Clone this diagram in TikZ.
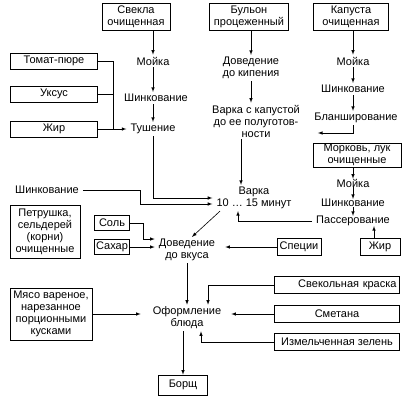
\documentclass[tikz,border=0pt]{standalone}
\usepackage{fontspec}
\setmainfont{Liberation Sans}

\begin{document}
\begin{tikzpicture}[x=1pt,y=-1pt,font=\fontsize{11}{12}\selectfont,
		box/.style={draw,line width=0.6pt,align=center,inner sep=1pt},
		txt/.style={align=center,inner xsep=4pt,inner ysep=2pt},
		arr/.style={-latex,line width=0.6pt},
		ln/.style={line width=0.6pt}]
	\useasboundingbox (0,0) rectangle (412,407);
	
	\node[box,minimum width=68pt,minimum height=27pt] (svekla) at (136,17) {Свекла\\очищенная};
	\node[box,minimum width=79pt,minimum height=27pt] (bulon) at (249,17) {Бульон\\процеженный};
	\node[box,minimum width=75pt,minimum height=27pt] (kapusta) at (351,17) {Капуста\\очищенная};
	
	\foreach \n/\t/\y in {tomat/Томат-пюре/61,uksus/Уксус/94,zhir/Жир/129}
	\node[box,minimum width=87pt,minimum height=16pt] (\n) at (54,\y) {\t};
	
	\node[txt] (moykaA) at (153,61) {Мойка};
	\node[txt] (shinkA) at (156,98) {Шинкование};
	\node[txt] (tush) at (153,129) {Тушение};
	\coordinate (jn) at (113,129);
	
	\node[txt] (dovKip) at (251,68) {Доведение\\до кипения};
	\node[txt] (varkaKap) at (256,121) {Варка с капустой\\до ее полуготов-\\ности};
	\node[txt] (varka) at (254,198) {Варка\\10 … 15 минут};
	
	\node[txt] (moykaC) at (353,61) {Мойка};
	\node[txt] (shinkC) at (353,89) {Шинкование};
	\node[txt] (blansh) at (356,118) {Бланширование};
	
	\node[box,minimum width=88pt,minimum height=24pt] (morkov) at (357,155) {Морковь, лук\\очищенные};
	\node[txt,inner ysep=0pt] (moykaD) at (353,183) {Мойка};
	\node[txt,inner ysep=0pt] (shinkD) at (353,203) {Шинкование};
	\node[txt,inner ysep=0pt] (passer) at (353,221) {Пассерование};
	\node[box,minimum width=40pt,minimum height=17pt] (zhirP) at (380,247) {Жир};
	\node[box,minimum width=44pt,minimum height=17pt] (speci) at (299,247) {Специи};
	
	\node[txt] (shinkP) at (47,190) {Шинкование};
	\node[box,minimum width=70pt,minimum height=53pt] (petr) at (45,232) {Петрушка,\\сельдерей\\(корни)\\очищенные};
	\node[box,minimum width=35pt,minimum height=15pt] (sol) at (112,223) {Соль};
	\node[box,minimum width=35pt,minimum height=15pt] (sakhar) at (112,247) {Сахар};
	\node[txt] (dovVkus) at (187,250) {Доведение\\до вкуса};
	
	\node[txt] (oform) at (187,318) {Оформление\\блюда};
	\node[box,minimum width=82pt,minimum height=52pt] (myaso) at (51,314) {Мясо вареное,\\нарезанное\\порционными\\кусками};
	\node[box,minimum width=125pt,minimum height=17pt,text width=119pt,align=right] (kraska) at (337,285) {Свекольная краска};
	\node[box,minimum width=125pt,minimum height=17pt] (smetana) at (337,314) {Сметана};
	\node[box,minimum width=125pt,minimum height=17pt] (zelen) at (337,342) {Измельченная зелень};
	\node[box,minimum width=49pt,minimum height=20pt] (borsch) at (183,385) {Борщ};
	
	\draw[arr] (moykaA |- svekla.south) -- (moykaA.north);
	\draw[arr] (moykaA.south) -- (moykaA.south |- shinkA.north);
	\draw[arr] (moykaA |- shinkA.south) -- (tush.north);
	\draw[ln] (tomat.east) -| (jn);
	\draw[ln] (uksus.east) -- (uksus.east -| jn);
	\draw[arr] (zhir) -- (tush);
	\draw[arr] (tush.south) |- (varka.west);
	\draw[arr] (shinkP.east) -- ++(57,0) |- ([yshift=-6pt]varka.west);
	
	\draw[arr] (bulon.south -| dovKip) -- (dovKip.north);
	\draw[arr] (dovKip.south) -- (dovKip.south |- varkaKap.north);
	\draw[arr] ([xshift=-15pt]varkaKap.south) -- ([xshift=-15pt]varkaKap.south |- varka.north);
	
	\draw[arr] (kapusta.south -| moykaC) -- (moykaC.north);
	\draw[arr] (moykaC) -- (shinkC);
	\draw[arr] (shinkC.south) -- (shinkC.south |- blansh.north);
	\draw[arr,shorten >=14pt] (blansh.south -| shinkC) |- ([yshift=-12pt]varkaKap.east);
	
	\draw[arr] (morkov.south -| moykaD) -- (moykaD.north);
	\draw[arr] (moykaD) -- (shinkD);
	\draw[arr] (shinkD) -- (passer);
	\draw[arr] ([xshift=-6pt]zhirP.north) -- ([xshift=-6pt]zhirP.north |- passer.south);
	\draw[arr] (passer.west) -| ([xshift=-16pt]varka.south);
	\draw[arr] ([xshift=-34pt]varka.south) -- ([xshift=5pt]dovVkus.north);
	
	\draw[arr] (sol.east) -- ++(13,0) |- ([yshift=11pt]dovVkus.west);
	\draw[arr] (sakhar.east) -- (sakhar.east -| dovVkus.west);
	\draw[arr,shorten >=6pt] (speci.west) -- (speci.west -| dovVkus.east);
	
	\draw[arr] (dovVkus) -- (oform);
	\draw[arr,shorten >=8pt] (myaso.east) -- (myaso.east -| oform.west);
	\draw[arr] (kraska.west) -| ([xshift=21pt]oform.north);
	\draw[arr,shorten >=6pt] (smetana.west) -- (smetana.west -| oform.east);
	\draw[arr] (zelen.west) -| ([xshift=14pt]oform.south);
	\draw[arr] (oform.south -| borsch) -- (borsch.north);
\end{tikzpicture}
\end{document}
